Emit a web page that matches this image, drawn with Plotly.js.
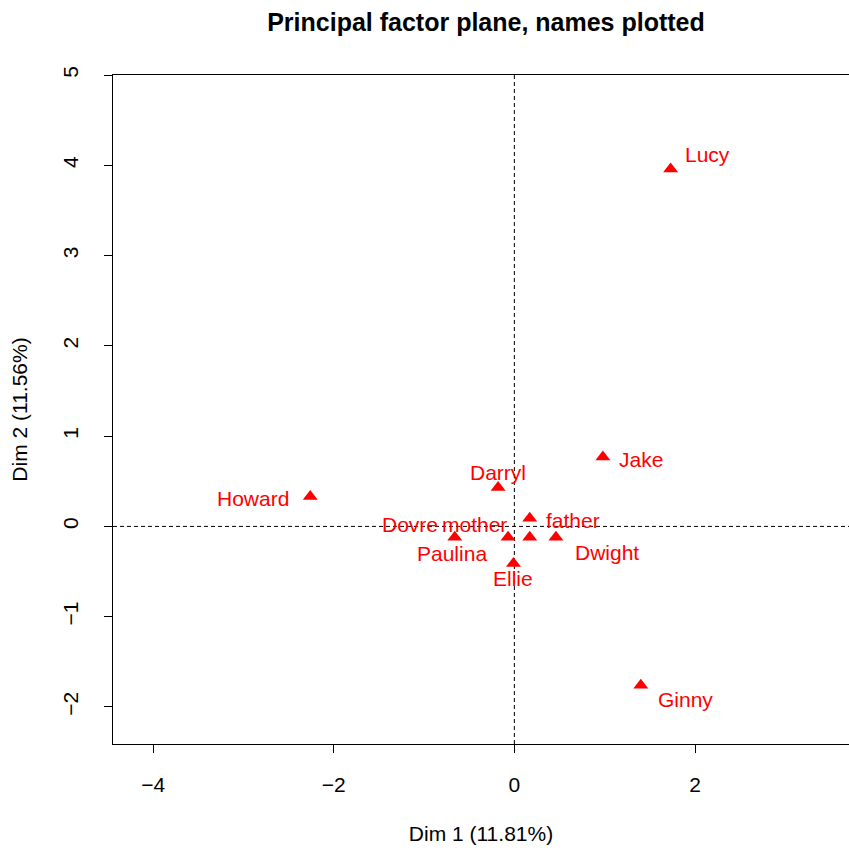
<!DOCTYPE html>
<html>
<head>
<meta charset="utf-8">
<script src="https://cdn.plot.ly/plotly-3.0.1.min.js"></script>
<style>html,body{margin:0;padding:0;background:#fff;}#plot{width:849px;height:852px;}</style>
</head>
<body>
<div id="plot"></div>
<script>
// Data
const names = ["Lucy","Jake","Darryl","Howard","father","Dovre","mother","Paulina","Dwight","Ellie","Ginny"];
const dim1  = [1.73, 0.98, -0.18, -2.26, 0.17, -0.07, 0.17, -0.66, 0.46, -0.01, 1.40];
const dim2  = [3.96, 0.77, 0.43, 0.33, 0.09, -0.12, -0.12, -0.12, -0.12, -0.41, -1.76];
const xTicks = [-4, -2, 0, 2];
const yTicks = [-2, -1, 0, 1, 2, 3, 4, 5];
const xTickText = ["\u22124", "\u22122", "0", "2"];
const yTickText = ["\u22122", "\u22121", "0", "1", "2", "3", "4", "5"];

// label offsets (pixels) – styling only
const labShiftX = [37, 38, 0, -57, 43, -98, -55, -3, 51, 0, 45];
const labShiftY = [14, -3, 15, -2, -2, 13, 13, -16, -15, -15, -14];

const FONT = "Liberation Sans, Arial, Helvetica, sans-serif";
const red = "#ff0000";

const trace = {
  x: dim1, y: dim2, mode: "markers", type: "scatter",
  marker: {symbol: "triangle-up", color: red, size: 13, line: {width: 0}},
  hoverinfo: "text", text: names, showlegend: false
};

const annotations = names.map((n, i) => ({
  x: dim1[i], y: dim2[i], xref: "x", yref: "y", text: n, showarrow: false,
  xshift: labShiftX[i], yshift: labShiftY[i],
  font: {family: FONT, size: 21, color: red}
}));

const layout = {
  width: 849, height: 852,
  margin: {l: 113, r: 0, t: 75, b: 108},
  paper_bgcolor: "#fff", plot_bgcolor: "#fff",
  title: {text: "<b>Principal factor plane, names plotted</b>", font: {family: FONT, size: 25, color: "#000"},
          x: 486/849, xanchor: "center", xref: "container", y: 1 - 22/852, yanchor: "middle", yref: "container"},
  xaxis: {
    range: [-4.444, 3.705], tickvals: xTicks, ticktext: xTickText,
    ticks: "outside", ticklen: 8, tickwidth: 1, tickcolor: "#000",
    showline: true, mirror: true, linecolor: "#000", linewidth: 1,
    showgrid: false, zeroline: false,
    tickfont: {family: FONT, size: 21, color: "#000"}, ticklabelstandoff: 14,
    title: {text: "Dim 1 (11.81%)", font: {family: FONT, size: 21, color: "#000"}, standoff: 31}
  },
  yaxis: {
    range: [-2.41, 5.0], tickvals: yTicks, ticktext: yTickText, tickangle: -90,
    ticks: "outside", ticklen: 8, tickwidth: 1, tickcolor: "#000",
    showline: true, mirror: true, linecolor: "#000", linewidth: 1,
    showgrid: false, zeroline: false,
    tickfont: {family: FONT, size: 21, color: "#000"}, ticklabelstandoff: 18,
    title: {text: "Dim 2 (11.56%)", font: {family: FONT, size: 21, color: "#000"}, standoff: 25}
  },
  shapes: [
    {type: "line", xref: "x", yref: "paper", x0: 0, x1: 0, y0: 0, y1: 1, layer: "below",
     line: {color: "#000", width: 1, dash: "4px,3px"}},
    {type: "line", xref: "paper", yref: "y", x0: 0, x1: 1, y0: 0, y1: 0, layer: "below",
     line: {color: "#000", width: 1, dash: "4px,3px"}}
  ],
  annotations: annotations
};

Plotly.newPlot("plot", [trace], layout, {displayModeBar: false, staticPlot: true});
</script>
</body>
</html>
